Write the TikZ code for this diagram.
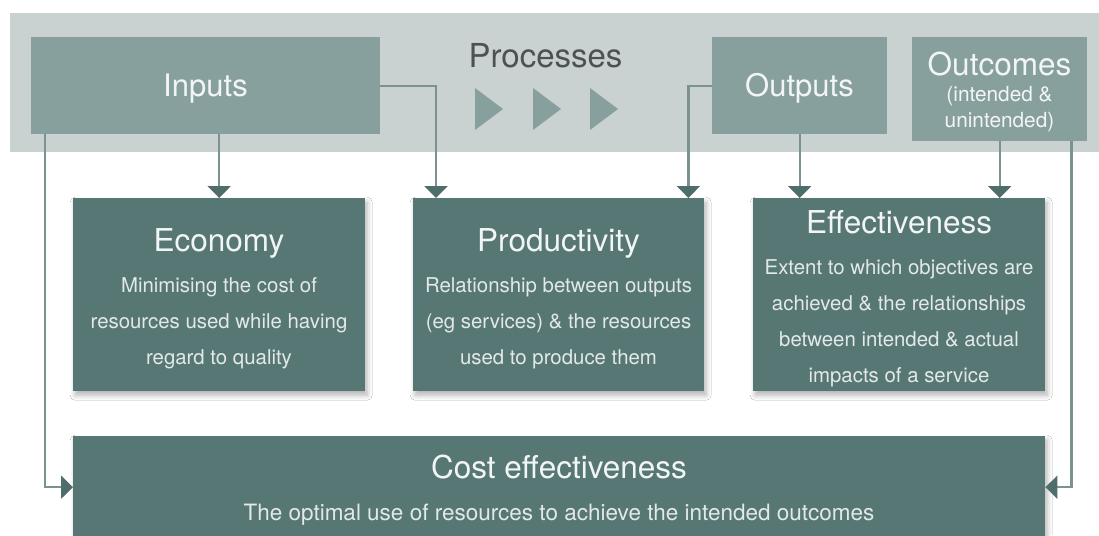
\documentclass[tikz,border=0pt]{standalone}
\usepackage{fontspec}
\setmainfont{TeX Gyre Heros}
\usetikzlibrary{arrows.meta,shadows.blur}

\definecolor{bandc}{HTML}{C9D2D0}
\definecolor{lightbox}{HTML}{87A09E}
\definecolor{darkbox}{HTML}{577775}
\definecolor{linec}{HTML}{7A9391}
\definecolor{tipc}{HTML}{4F6D6B}
\definecolor{proctext}{HTML}{4C5252}
\definecolor{boxtext}{HTML}{F2F5F5}
\definecolor{subtext}{HTML}{E2E9E8}

\tikzset{
  stagebox/.style={fill=lightbox, draw=none, anchor=north west, inner sep=0pt},
  measurebox/.style={fill=darkbox, draw=none, anchor=north west, inner sep=0pt,
    blur shadow={shadow xshift=2pt, shadow yshift=-4pt, shadow blur steps=8, shadow blur radius=5pt, shadow opacity=30}},
  stagelabel/.style={text=boxtext, font=\fontsize{31}{34}\selectfont, anchor=base},
  smalllabel/.style={text=boxtext, font=\fontsize{20.8}{26}\selectfont, anchor=base},
  titlelabel/.style={text=boxtext, font=\fontsize{31.5}{34}\selectfont, anchor=base},
  desclabel/.style={text=subtext, font=\fontsize{20.4}{36}\selectfont, align=center},
  conn/.style={draw=linec, line width=2.2pt,
    -{Triangle[width=23pt,length=12pt,color=tipc]}},
}

\begin{document}
\begin{tikzpicture}[x=1pt,y=-1pt]
\useasboundingbox (0,0) rectangle (1099,535);
\fill[white] (0,0) rectangle (1099,535);

% stage band across the top
\fill[bandc] (10,13) rectangle (1110,152);

% stages
\node[stagebox, minimum width=349pt, minimum height=97pt] (inputs) at (31,37) {};
\node[stagebox, minimum width=175pt, minimum height=97pt] (outputs) at (712,37) {};
\node[stagebox, minimum width=175pt, minimum height=104pt] (outcomes) at (912,37) {};

\node[stagelabel] (inputsT) at (205.5,96) {Inputs};
\node[stagelabel] (outputsT) at (799.5,96) {Outputs};
\node[stagelabel, font=\fontsize{31.5}{34}\selectfont] (outcomesT) at (999.5,75) {Outcomes};
\node[smalllabel] (outcomesA) at (999.5,101) {(intended \&};
\node[smalllabel] (outcomesB) at (999.5,127) {unintended)};

% processes
\node[text=proctext, font=\fontsize{33}{36}\selectfont, anchor=base] (proc) at (545.5,67) {Processes};
\foreach \px in {475,533,590}
  \fill[lightbox] (\px,88) -- (\px+28,109) -- (\px,130) -- cycle;

% measures
\node[measurebox, minimum width=292pt, minimum height=193pt] (econ) at (73,198) {};
\node[measurebox, minimum width=291pt, minimum height=193pt] (prod) at (413,198) {};
\node[measurebox, minimum width=292pt, minimum height=193pt] (eff) at (753,198) {};
\node[measurebox, minimum width=972pt, minimum height=102pt] (cost) at (73,436) {};

\node[titlelabel] (econT) at (219,251) {Economy};
\node[desclabel] (econD) at (219,323) {Minimising the cost of\\resources used while having\\regard to quality};

\node[titlelabel] (prodT) at (558.5,251) {Productivity};
\node[desclabel] (prodD) at (558.5,323) {Relationship between outputs\\(eg services) \& the resources\\used to produce them};

\node[titlelabel] (effT) at (899,233) {Effectiveness};
\node[desclabel] (effD) at (899,323) {Extent to which objectives are\\achieved \& the relationships\\between intended \& actual\\impacts of a service};

\node[titlelabel] (costT) at (559,478) {Cost effectiveness};
\node[text=subtext, font=\fontsize{22.5}{26}\selectfont, anchor=base] (costD) at (559,520) {The optimal use of resources to achieve the intended outcomes};

% connectors
\draw[conn] (inputs.south -| econ.north) -- (econ.north);
\draw[conn] (inputs.east) -| ([xshift=23pt]prod.north west);
\draw[conn] (outputs.west) -| ([xshift=-16pt]prod.north east);
\draw[conn] (outputs.south) -- (outputs.south |- eff.north);
\draw[conn] (outcomes.south) -- (outcomes.south |- eff.north);
\draw[conn] ([xshift=14pt]inputs.south west) |- (cost.west);
\draw[conn] ([xshift=-16pt]outcomes.south east) |- (cost.east);
\end{tikzpicture}
\end{document}
